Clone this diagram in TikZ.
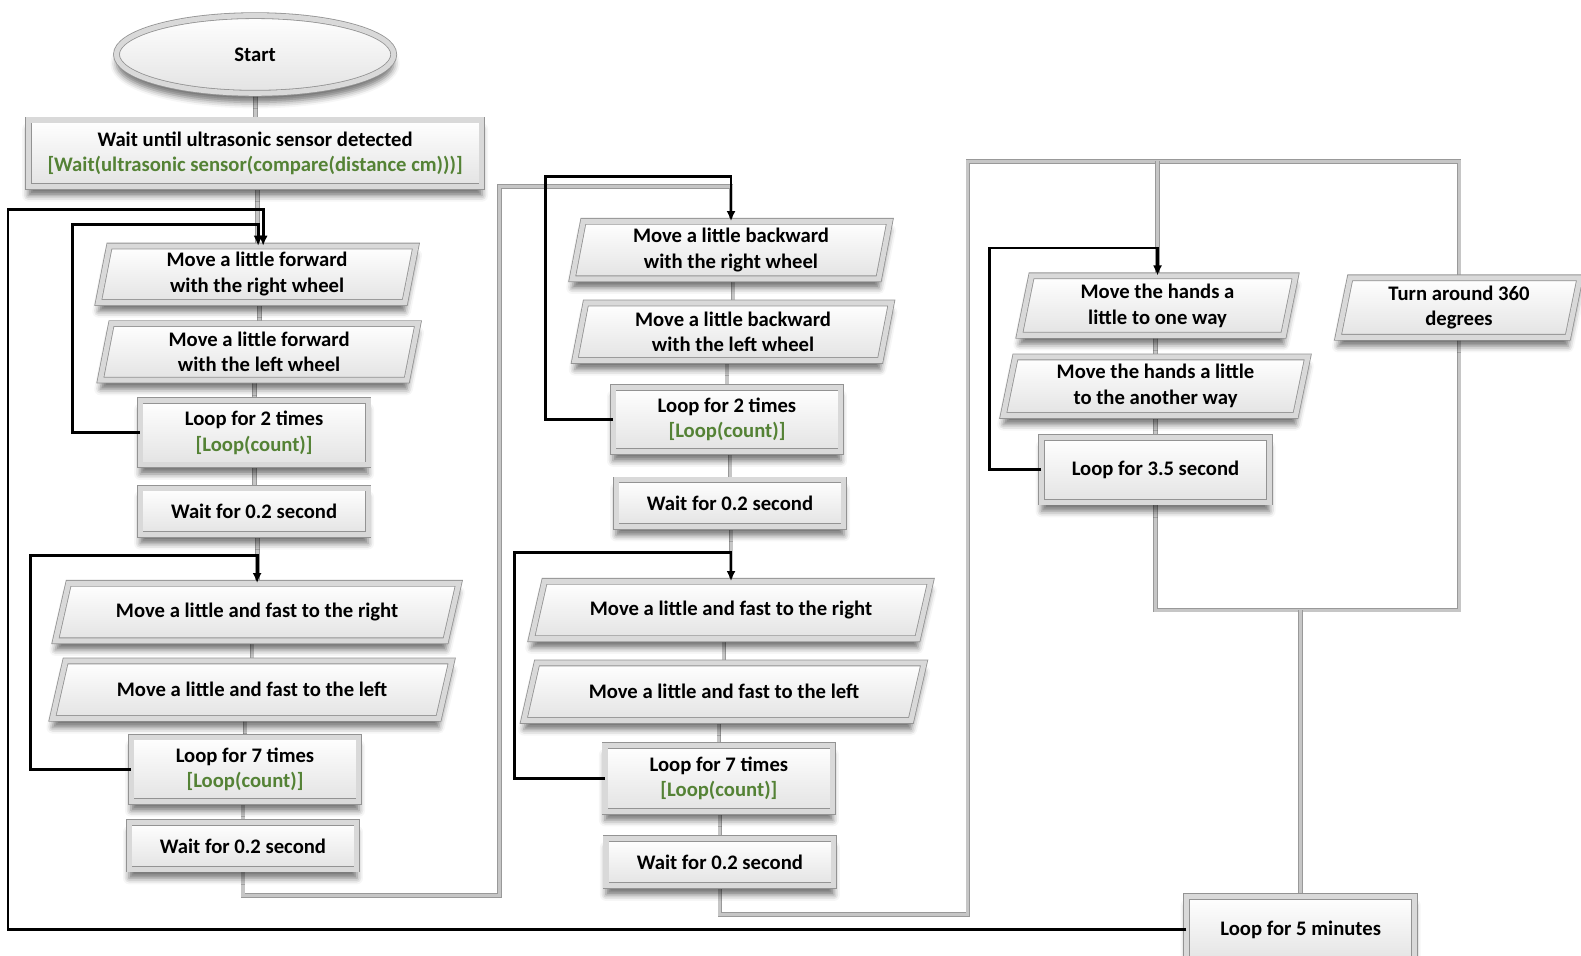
\documentclass[tikz,border=0pt]{standalone}
\usepackage{fontspec}
\setmainfont{Carlito}
\usetikzlibrary{shapes.geometric,arrows.meta,shadows.blur,backgrounds}
\definecolor{codegreen}{RGB}{84,130,53}
\newcommand\bxfont{\fontsize{20.5}{25.5}\selectfont\bfseries}
\newcommand\gtxt[1]{\textcolor{codegreen}{#1}}
\tikzset{
  boxbase/.style={draw=gray!85, line width=0.8pt, double=gray!30, double distance=5pt,
    top color=white, bottom color=gray!22,
    blur shadow={shadow xshift=0pt, shadow yshift=-9pt, shadow blur radius=6pt, shadow opacity=55}},
  rbox/.style={boxbase, rectangle, inner sep=0pt, align=center, font=\bxfont},
  ptext/.style={rectangle, inner sep=0pt, align=center, font=\bxfont},
  gconn/.style={draw=gray!80, line width=0.9pt, double=gray!45, double distance=3pt},
  bconn/.style={draw=black, line width=2.8pt, -{Latex[length=10pt,width=9pt]}}
}
% name, cx, cy, full width, height, slant, text
\newcommand\parabox[7]{%
  \path[boxbase] ({#2-#4/2+#6},{#3-#5/2}) -- ({#2+#4/2},{#3-#5/2}) -- ({#2+#4/2-#6},{#3+#5/2}) -- ({#2-#4/2},{#3+#5/2}) -- cycle;
  \node[ptext, minimum width={#4-#6}, minimum height=#5] (#1) at (#2,#3) {#7};}
\begin{document}
\begin{tikzpicture}[x=1pt,y=-1pt]
\useasboundingbox (0,0) rectangle (1568,948);
% ---------- column 1
\node[boxbase, ellipse, minimum width=275, minimum height=77, font=\bxfont] (start) at (253,54) {Start};
\node[rbox, minimum width=450, minimum height=66] (wait0) at (253,152)
  {Wait until ultrasonic sensor detected\\\gtxt{[Wait(ultrasonic sensor(compare(distance cm)))]}};
\parabox{c1p1}{255}{272}{315}{56}{11}{Move a little forward\\with the right wheel}
\parabox{c1p2}{257}{349}{315}{56}{11}{Move a little forward\\with the left wheel}
\node[rbox, minimum width=226, minimum height=64] (c1l2) at (252,429) {Loop for 2 times\\\gtxt{[Loop(count)]}};
\node[rbox, minimum width=226, minimum height=46] (c1w) at (252,507) {Wait for 0.2 second};
\parabox{c1pr}{255}{607}{400}{57}{13}{Move a little and fast to the right}
\parabox{c1pl}{250}{684}{396}{57}{13}{Move a little and fast to the left}
\node[rbox, minimum width=226, minimum height=64] (c1l7) at (243,763) {Loop for 7 times\\\gtxt{[Loop(count)]}};
\node[rbox, minimum width=226, minimum height=46] (c1w2) at (241,839) {Wait for 0.2 second};
% ---------- column 2
\parabox{c2p1}{725}{248}{315}{57}{11}{Move a little backward\\with the right wheel}
\parabox{c2p2}{727}{329}{314}{57}{11}{Move a little backward\\with the left wheel}
\node[rbox, minimum width=226, minimum height=64] (c2l2) at (721,416) {Loop for 2 times\\\gtxt{[Loop(count)]}};
\node[rbox, minimum width=226, minimum height=46] (c2w) at (724,499) {Wait for 0.2 second};
\parabox{c2pr}{725}{605}{396}{57}{13}{Move a little and fast to the right}
\parabox{c2pl}{718}{686}{397}{57}{13}{Move a little and fast to the left}
\node[rbox, minimum width=226, minimum height=65] (c2l7) at (713,772) {Loop for 7 times\\\gtxt{[Loop(count)]}};
\node[rbox, minimum width=226, minimum height=47] (c2w2) at (714,855) {Wait for 0.2 second};
% ---------- column 3
\parabox{h1}{1148}{303}{274}{59}{12}{Move the hands a\\little to one way}
\parabox{h2}{1146}{383}{302}{58}{12}{Move the hands a little\\to the another way}
\node[rbox, minimum width=226, minimum height=64] (l35) at (1146,466) {Loop for 3.5 second};
\parabox{turn}{1447}{305}{240}{59}{12}{Turn around 360\\degrees}
\node[rbox, minimum width=226, minimum height=66] (l5m) at (1290,922) {Loop for 5 minutes};
% ---------- grey connectors
\coordinate (g1) at (495,888);
\coordinate (g2) at (495,185);
\coordinate (g3) at (960,907);
\coordinate (g4) at (960,160);
\coordinate (g6) at (1290,605);
\begin{scope}[on background layer]
\draw[gconn] (start.south -| wait0.north) -- (wait0.north);
\draw[gconn] (wait0.south -| c1p1.north) -- (c1p1.north);
\draw[gconn] (c1p1.south -| c1p2.north) -- (c1p2.north);
\draw[gconn] (c1p2.south -| c1l2.north) -- (c1l2.north);
\draw[gconn] (c1l2.south -| c1w.north) -- (c1w.north);
\draw[gconn] (c1w.south -| c1pr.north) -- (c1pr.north);
\draw[gconn] (c1pr.south -| c1pl.north) -- (c1pl.north);
\draw[gconn] (c1pl.south -| c1l7.north) -- (c1l7.north);
\draw[gconn] (c1l7.south -| c1w2.north) -- (c1w2.north);
\draw[gconn] (c1w2.south) |- (g1) -- (g2) -| (c2p1.north);
\draw[gconn] (c2p1.south -| c2p2.north) -- (c2p2.north);
\draw[gconn] (c2p2.south -| c2l2.north) -- (c2l2.north);
\draw[gconn] (c2l2.south -| c2w.north) -- (c2w.north);
\draw[gconn] (c2w.south -| c2pr.north) -- (c2pr.north);
\draw[gconn] (c2pr.south -| c2pl.north) -- (c2pl.north);
\draw[gconn] (c2pl.south -| c2l7.north) -- (c2l7.north);
\draw[gconn] (c2l7.south -| c2w2.north) -- (c2w2.north);
\draw[gconn] (c2w2.south) |- (g3) -- (g4) -| (turn.north);
\draw[gconn] (g4 -| h1.north) -- (h1.north);
\draw[gconn] (h1.south -| h2.north) -- (h2.north);
\draw[gconn] (h2.south -| l35.north) -- (l35.north);
\draw[gconn] (l35.south) |- (g6);
\draw[gconn] (turn.south) |- (g6);
\draw[gconn] (g6) -- (l5m.north);
\end{scope}
% ---------- black loop arrows
\coordinate (k0) at (8,208);
\coordinate (k1) at (72,223);
\coordinate (k2) at (30,551);
\coordinate (k3) at (541,175);
\coordinate (k4) at (510,548);
\coordinate (k5) at (981,246);
\draw[bconn] (l5m.west) -| (k0) -| ([xshift=6pt]c1p1.north);
\draw[bconn] (c1l2.west) -| (k1) -| ([xshift=1pt]c1p1.north);
\draw[bconn] (c1l7.west) -| (k2) -| (c1pr.north);
\draw[bconn] (c2l2.west) -| (k3) -| (c2p1.north);
\draw[bconn] (c2l7.west) -| (k4) -| (c2pr.north);
\draw[bconn] (l35.west) -| (k5) -| (h1.north);
\end{tikzpicture}
\end{document}
